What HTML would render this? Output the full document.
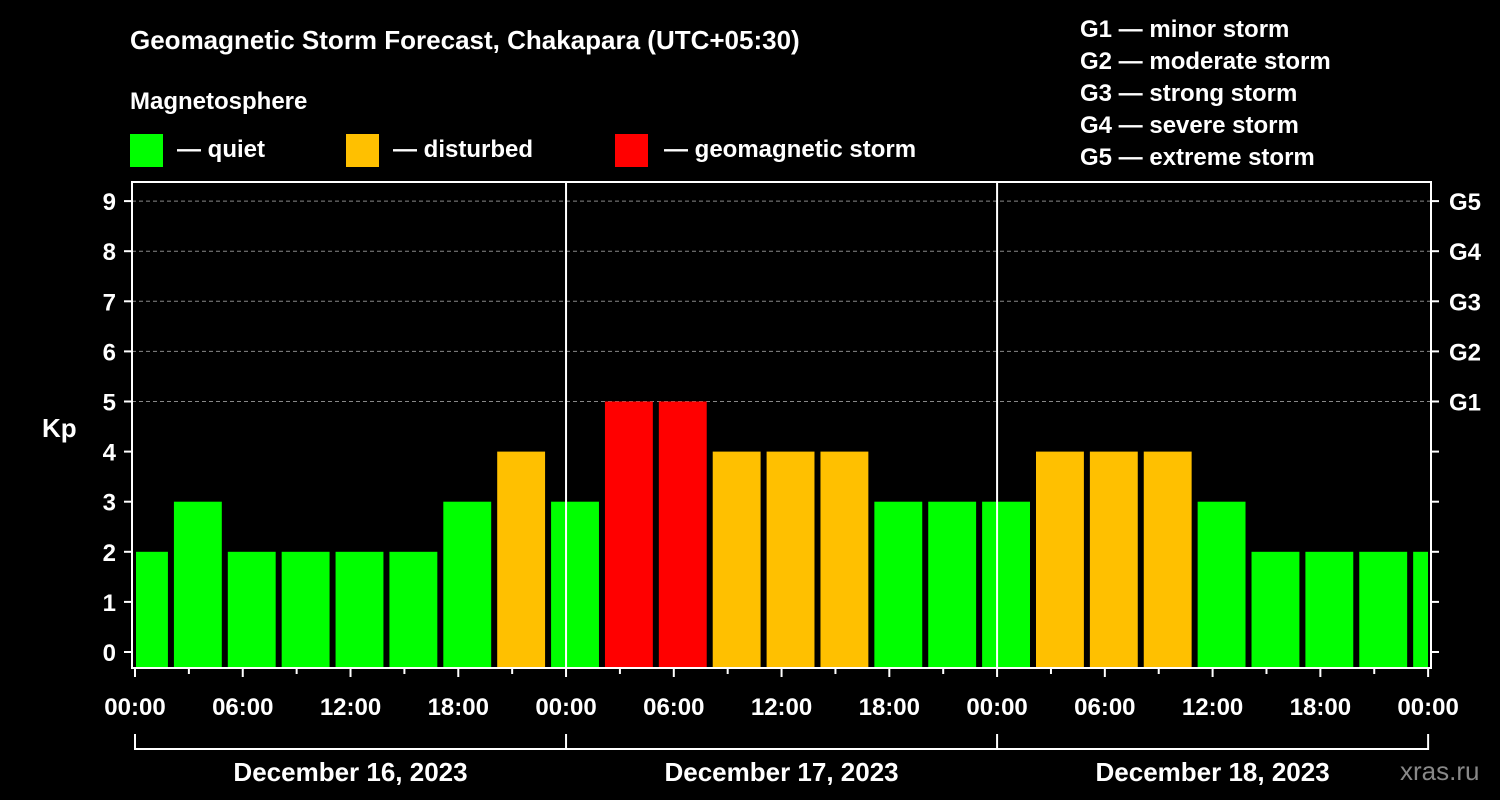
<!DOCTYPE html>
<html><head><meta charset="utf-8"><style>
html,body{margin:0;padding:0;background:#000;}
svg{display:block;font-family:"Liberation Sans",sans-serif;font-weight:bold;}
</style></head><body>
<svg id="c" width="1500" height="800" viewBox="0 0 1500 800">
<rect x="0" y="0" width="1500" height="800" fill="#000"/>
<text x="130" y="49" fill="#fff" font-size="26">Geomagnetic Storm Forecast, Chakapara (UTC+05:30)</text>
<text x="130" y="109" fill="#fff" font-size="24">Magnetosphere</text>
<g><rect x="130" y="134" width="33" height="33" fill="#00ff00"/><text x="177" y="157" fill="#fff" font-size="24">— quiet</text></g>
<g><rect x="346" y="134" width="33" height="33" fill="#ffc000"/><text x="393" y="157" fill="#fff" font-size="24">— disturbed</text></g>
<g><rect x="615" y="134" width="33" height="33" fill="#ff0000"/><text x="664" y="157" fill="#fff" font-size="24">— geomagnetic storm</text></g>
<g fill="#fff" font-size="24">
<text x="1080" y="37">G1 — minor storm</text>
<text x="1080" y="69">G2 — moderate storm</text>
<text x="1080" y="101">G3 — strong storm</text>
<text x="1080" y="133">G4 — severe storm</text>
<text x="1080" y="165">G5 — extreme storm</text>
</g>
<text x="42" y="437" fill="#fff" font-size="26">Kp</text>
<text x="1400" y="780" fill="#888" font-size="26" font-weight="normal">xras.ru</text>
<g id="grid"></g><g id="bars"></g><g id="axes"></g>
</svg>
<script>
const kpValues=[2,3,2,2,2,2,3,4,3,5,5,4,4,4,3,3,3,4,4,4,3,2,2,2,2];
const yTicks=[0,1,2,3,4,5,6,7,8,9];
const gLabels=["G1","G2","G3","G4","G5"];
const timeLabels=["00:00","06:00","12:00","18:00"];
const dayLabels=["December 16, 2023","December 17, 2023","December 18, 2023"];
const NS="http://www.w3.org/2000/svg";
const L=132,R=1431,T=182,B=668,X0=135,PXH=17.96;
const x=h=>X0+h*PXH;
const y=v=>652-50.1*v;
function mk(tag,attrs,parent,text){const e=document.createElementNS(NS,tag);for(const k in attrs)e.setAttribute(k,attrs[k]);if(text!==undefined)e.textContent=text;document.getElementById(parent).appendChild(e);return e;}
function col(v){return v>=5?"#ff0000":v>=4?"#ffc000":"#00ff00";}
// grid
[5,6,7,8,9].forEach(v=>{const g=mk("line",{x1:L,x2:R,y1:y(v),y2:y(v),stroke:"#888","stroke-dasharray":"4,3","stroke-width":1},"grid");

});
// bars
kpValues.forEach((v,k)=>{let a=x(-1+3*k)+3,b=x(2+3*k)-3;a=Math.max(a,X0+1);b=Math.min(b,R-3);
const r=mk("rect",{x:a,y:y(v),width:b-a,height:B-1-y(v),fill:col(v)},"bars");

});
// day separators
[1,2].forEach(d=>{const l=mk("line",{x1:x(24*d),x2:x(24*d),y1:T,y2:B,stroke:"#fff","stroke-width":2},"axes");

});
// frame
const fr=mk("rect",{x:L,y:T,width:R-L,height:B-T,fill:"none",stroke:"#fff","stroke-width":2},"axes");


// y ticks
yTicks.forEach(v=>{mk("line",{x1:L-8,x2:L,y1:y(v),y2:y(v),stroke:"#fff","stroke-width":2},"axes");
mk("line",{x1:R,x2:R+8,y1:y(v),y2:y(v),stroke:"#fff","stroke-width":2},"axes");
const t=mk("text",{x:L-16,y:y(v)+9,fill:"#fff","font-size":24,"text-anchor":"end"},"axes",String(v));

});
gLabels.forEach((g,i)=>{const t=mk("text",{x:1449,y:y(5+i)+9,fill:"#fff","font-size":24},"axes",g);

});
// x ticks
for(let h=0;h<=72;h+=3){const big=h%6===0;mk("line",{x1:x(h),x2:x(h),y1:B,y2:B+(big?9:6),stroke:"#fff","stroke-width":2},"axes");}
for(let h=0;h<=72;h+=6){const t=mk("text",{x:x(h),y:715,fill:"#fff","font-size":24,"text-anchor":"middle"},"axes",timeLabels[(h/6)%4]);

}
// day brackets
mk("line",{x1:x(0),x2:x(72),y1:749,y2:749,stroke:"#fff","stroke-width":2},"axes");
for(let d=0;d<=3;d++)mk("line",{x1:x(24*d),x2:x(24*d),y1:734,y2:750,stroke:"#fff","stroke-width":2},"axes");
dayLabels.forEach((s,d)=>{const t=mk("text",{x:x(24*d+12),y:781,fill:"#fff","font-size":26,"text-anchor":"middle"},"axes",s);

});
</script>
</body></html>
